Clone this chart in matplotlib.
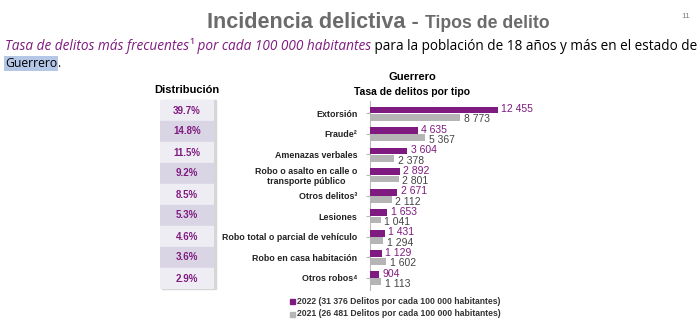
import matplotlib.pyplot as plt
from matplotlib.patches import Rectangle
import numpy as np

# Datos
categorias = ['Extorsión', 'Fraude²', 'Amenazas verbales',
              'Robo o asalto en calle o\ntransporte público', 'Otros delitos³',
              'Lesiones', 'Robo total o parcial de vehículo',
              'Robo en casa habitación', 'Otros robos⁴']
tasa_2022 = [12455, 4635, 3604, 2892, 2671, 1653, 1431, 1129, 904]
tasa_2021 = [8773, 5367, 2378, 2801, 2112, 1041, 1294, 1602, 1113]
distribucion = ['39.7%', '14.8%', '11.5%', '9.2%', '8.5%', '5.3%', '4.6%', '3.6%', '2.9%']
leyenda = ['2022 (31 376 Delitos por cada 100 000 habitantes)',
           '2021 (26 481 Delitos por cada 100 000 habitantes)']

morado = '#7f1a80'
gris = '#b5b5b5'
W, H = 700, 331

plt.rcParams['font.family'] = ['Liberation Sans', 'DejaVu Sans']
fig = plt.figure(figsize=(7, 3.31), dpi=100)
fig.patch.set_facecolor('white')


def fx(px):
    return px / W


def fy(py):
    return 1 - py / H


def fmt(v):
    return f'{v:,}'.replace(',', ' ')


renderer = fig.canvas.get_renderer()


def texto_seguido(piezas, x0, y0, ancho=None):
    # coloca trozos de texto uno tras otro; si se da ancho, ajusta el tamaño
    textos = []
    x = x0
    for s, kw in piezas:
        t = fig.text(fx(x), fy(y0), s, va='baseline', ha='left', **kw)
        textos.append(t)
        x += t.get_window_extent(renderer=renderer).width
    if ancho is not None:
        k = ancho / (x - x0)
        x = x0
        for t in textos:
            t.set_fontsize(t.get_fontsize() * k)
            t.set_x(fx(x))
            x += t.get_window_extent(renderer=renderer).width
    return x


# Título
texto_seguido([('Incidencia delictiva - ', dict(fontsize=19, fontweight='bold', color='#6b6b6b')),
               ('Tipos de delito', dict(fontsize=15.5, fontweight='bold', color='#6b6b6b'))],
              207, 28, ancho=341)
fig.text(fx(690), fy(17), '11', fontsize=6, color='#888888', ha='right', va='center')

# Subtítulo
sub = dict(fontsize=10.2, family=['Open Sans', 'DejaVu Sans'])
texto_seguido([('Tasa de delitos más frecuentes', dict(style='italic', color=morado, **sub)),
               ('¹', dict(color=morado, **sub)),
               (' por cada 100 000 habitantes', dict(style='italic', color=morado, **sub)),
               (' para la población de 18 años y más en el estado de', dict(color='black', **sub))],
              5, 50, ancho=688)
texto_seguido([('Guerrero', dict(color='black', bbox=dict(facecolor='#b4c7e7', edgecolor='none', pad=0.5), **sub)),
               ('.', dict(color='black', **sub))], 5, 67, ancho=56)

# Tabla de distribución
axd = fig.add_axes([fx(160), fy(289), fx(54), (289 - 100) / H])
axd.set_xlim(0, 1)
axd.set_ylim(len(distribucion), 0)
axd.axis('off')
axd.add_patch(Rectangle((0.04, 0.02), 1, len(distribucion), color='#d6d6d6', zorder=1, clip_on=False))
for i, d in enumerate(distribucion):
    c = '#efedf4' if i % 2 == 0 else '#d9d5e4'
    axd.add_patch(Rectangle((0, i), 1, 1, color=c, zorder=2))
    axd.text(0.5, i + 0.5, d, ha='center', va='center', fontsize=7, fontweight='bold',
             color=morado, zorder=3)
fig.text(fx(187), fy(90), 'Distribución', ha='center', va='center', fontsize=8,
         fontweight='bold', color='black')

# Gráfica de barras
ax = fig.add_axes([fx(370), fy(290), fx(205), (290 - 101) / H])
y = np.arange(len(categorias))
h = 0.33
ax.barh(y - h / 2, tasa_2022, height=h, color=morado, zorder=3)
ax.barh(y + h / 2 + 0.03, tasa_2021, height=h, color=gris, zorder=3)
for yi, a, b in zip(y, tasa_2022, tasa_2021):
    ax.text(a + 350, yi - 0.2, fmt(a), va='center', ha='left', fontsize=7.5, color=morado)
    ax.text(b + 350, yi + 0.3, fmt(b), va='center', ha='left', fontsize=7.5, color='#444444')
ax.set_xlim(0, 20000)
ax.set_ylim(len(categorias) - 0.4, -0.6)
ax.set_yticks(y)
ax.set_yticklabels(categorias, fontsize=6.4, fontweight='bold', color='#222222')
ax.tick_params(axis='y', length=3, color='#bbbbbb', pad=6)
for lab in ax.get_yticklabels():
    lab.set_horizontalalignment('right')
    lab.set_multialignment('center')
ax.set_xticks([])
for s in ['top', 'right', 'bottom']:
    ax.spines[s].set_visible(False)
ax.spines['left'].set_color('#bbbbbb')
ax.set_facecolor('none')

fig.text(fx(412), fy(77), 'Guerrero', ha='center', va='center', fontsize=8, fontweight='bold')
fig.text(fx(412), fy(92), 'Tasa de delitos por tipo', ha='center', va='center', fontsize=7.5,
         fontweight='bold')

# Leyenda
for i, (txt, c) in enumerate(zip(leyenda, [morado, gris])):
    yy = 301 + i * 13
    fig.patches.append(Rectangle((fx(290), fy(yy + 2.5)), fx(5), 5 / H, color=c,
                                 transform=fig.transFigure, figure=fig))
    fig.text(fx(297), fy(yy), txt, ha='left', va='center', fontsize=6.2, fontweight='bold',
             color='#333333')

plt.savefig('out.png', dpi=100, facecolor='white')
